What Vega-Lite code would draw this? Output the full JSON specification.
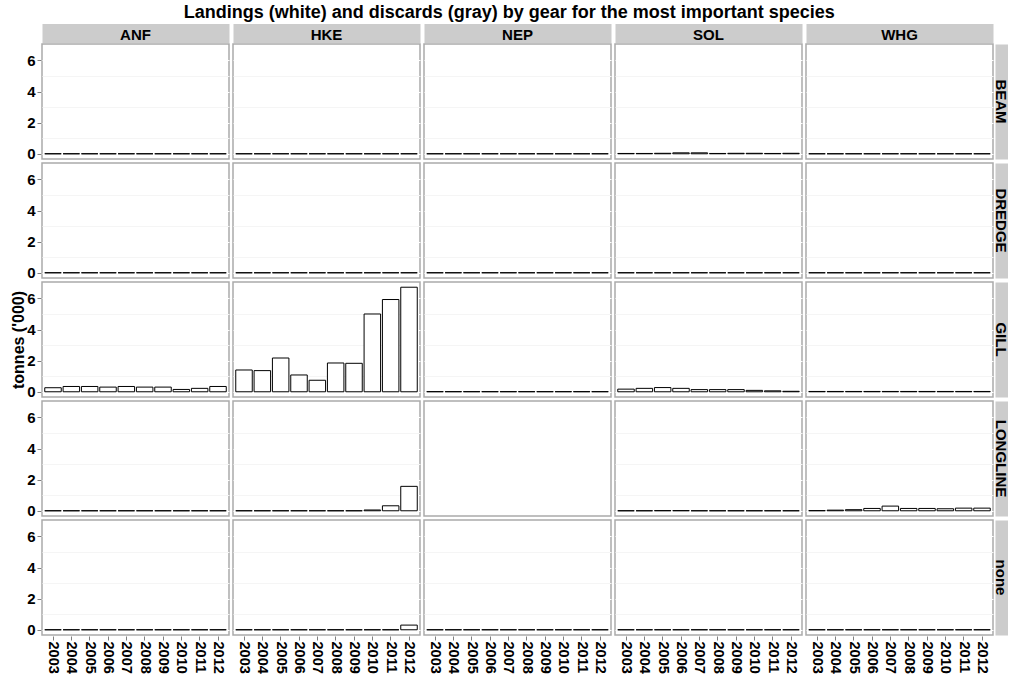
{
  "$schema": "https://vega.github.io/schema/vega-lite/v6.json",
  "padding": {"left": 10, "top": 4, "right": 0, "bottom": 0},
  "background": "white",
  "title": {"text": "Landings (white) and discards (gray) by gear for the most important species", "font": "Liberation Sans", "fontSize": 18, "fontWeight": "bold", "color": "black", "anchor": "middle", "offset": 6},
  "config": {
    "view": {"stroke": "#ababab", "strokeWidth": 1.5},
    "font": "Liberation Sans"
  },
  "data": {"values": [
    {"species":"ANF","gear":"BEAM","year":"2003","tonnes":0},{"species":"ANF","gear":"BEAM","year":"2004","tonnes":0},{"species":"ANF","gear":"BEAM","year":"2005","tonnes":0},{"species":"ANF","gear":"BEAM","year":"2006","tonnes":0},{"species":"ANF","gear":"BEAM","year":"2007","tonnes":0},{"species":"ANF","gear":"BEAM","year":"2008","tonnes":0},{"species":"ANF","gear":"BEAM","year":"2009","tonnes":0},{"species":"ANF","gear":"BEAM","year":"2010","tonnes":0},{"species":"ANF","gear":"BEAM","year":"2011","tonnes":0},{"species":"ANF","gear":"BEAM","year":"2012","tonnes":0},
    {"species":"HKE","gear":"BEAM","year":"2003","tonnes":0},{"species":"HKE","gear":"BEAM","year":"2004","tonnes":0},{"species":"HKE","gear":"BEAM","year":"2005","tonnes":0},{"species":"HKE","gear":"BEAM","year":"2006","tonnes":0},{"species":"HKE","gear":"BEAM","year":"2007","tonnes":0},{"species":"HKE","gear":"BEAM","year":"2008","tonnes":0},{"species":"HKE","gear":"BEAM","year":"2009","tonnes":0},{"species":"HKE","gear":"BEAM","year":"2010","tonnes":0},{"species":"HKE","gear":"BEAM","year":"2011","tonnes":0},{"species":"HKE","gear":"BEAM","year":"2012","tonnes":0},
    {"species":"NEP","gear":"BEAM","year":"2003","tonnes":0},{"species":"NEP","gear":"BEAM","year":"2004","tonnes":0},{"species":"NEP","gear":"BEAM","year":"2005","tonnes":0},{"species":"NEP","gear":"BEAM","year":"2006","tonnes":0},{"species":"NEP","gear":"BEAM","year":"2007","tonnes":0},{"species":"NEP","gear":"BEAM","year":"2008","tonnes":0},{"species":"NEP","gear":"BEAM","year":"2009","tonnes":0},{"species":"NEP","gear":"BEAM","year":"2010","tonnes":0},{"species":"NEP","gear":"BEAM","year":"2011","tonnes":0},{"species":"NEP","gear":"BEAM","year":"2012","tonnes":0},
    {"species":"SOL","gear":"BEAM","year":"2003","tonnes":0.02},{"species":"SOL","gear":"BEAM","year":"2004","tonnes":0.02},{"species":"SOL","gear":"BEAM","year":"2005","tonnes":0.03},{"species":"SOL","gear":"BEAM","year":"2006","tonnes":0.06},{"species":"SOL","gear":"BEAM","year":"2007","tonnes":0.06},{"species":"SOL","gear":"BEAM","year":"2008","tonnes":0.02},{"species":"SOL","gear":"BEAM","year":"2009","tonnes":0.03},{"species":"SOL","gear":"BEAM","year":"2010","tonnes":0.03},{"species":"SOL","gear":"BEAM","year":"2011","tonnes":0.02},{"species":"SOL","gear":"BEAM","year":"2012","tonnes":0.03},
    {"species":"WHG","gear":"BEAM","year":"2003","tonnes":0},{"species":"WHG","gear":"BEAM","year":"2004","tonnes":0},{"species":"WHG","gear":"BEAM","year":"2005","tonnes":0},{"species":"WHG","gear":"BEAM","year":"2006","tonnes":0},{"species":"WHG","gear":"BEAM","year":"2007","tonnes":0},{"species":"WHG","gear":"BEAM","year":"2008","tonnes":0},{"species":"WHG","gear":"BEAM","year":"2009","tonnes":0},{"species":"WHG","gear":"BEAM","year":"2010","tonnes":0},{"species":"WHG","gear":"BEAM","year":"2011","tonnes":0},{"species":"WHG","gear":"BEAM","year":"2012","tonnes":0},
    {"species":"ANF","gear":"DREDGE","year":"2003","tonnes":0},{"species":"ANF","gear":"DREDGE","year":"2004","tonnes":0},{"species":"ANF","gear":"DREDGE","year":"2005","tonnes":0},{"species":"ANF","gear":"DREDGE","year":"2006","tonnes":0},{"species":"ANF","gear":"DREDGE","year":"2007","tonnes":0},{"species":"ANF","gear":"DREDGE","year":"2008","tonnes":0},{"species":"ANF","gear":"DREDGE","year":"2009","tonnes":0},{"species":"ANF","gear":"DREDGE","year":"2010","tonnes":0},{"species":"ANF","gear":"DREDGE","year":"2011","tonnes":0},{"species":"ANF","gear":"DREDGE","year":"2012","tonnes":0},
    {"species":"HKE","gear":"DREDGE","year":"2003","tonnes":0},{"species":"HKE","gear":"DREDGE","year":"2004","tonnes":0},{"species":"HKE","gear":"DREDGE","year":"2005","tonnes":0},{"species":"HKE","gear":"DREDGE","year":"2006","tonnes":0},{"species":"HKE","gear":"DREDGE","year":"2007","tonnes":0},{"species":"HKE","gear":"DREDGE","year":"2008","tonnes":0},{"species":"HKE","gear":"DREDGE","year":"2009","tonnes":0},{"species":"HKE","gear":"DREDGE","year":"2010","tonnes":0},{"species":"HKE","gear":"DREDGE","year":"2011","tonnes":0},{"species":"HKE","gear":"DREDGE","year":"2012","tonnes":0},
    {"species":"NEP","gear":"DREDGE","year":"2003","tonnes":0},{"species":"NEP","gear":"DREDGE","year":"2004","tonnes":0},{"species":"NEP","gear":"DREDGE","year":"2005","tonnes":0},{"species":"NEP","gear":"DREDGE","year":"2006","tonnes":0},{"species":"NEP","gear":"DREDGE","year":"2007","tonnes":0},{"species":"NEP","gear":"DREDGE","year":"2008","tonnes":0},{"species":"NEP","gear":"DREDGE","year":"2009","tonnes":0},{"species":"NEP","gear":"DREDGE","year":"2010","tonnes":0},{"species":"NEP","gear":"DREDGE","year":"2011","tonnes":0},{"species":"NEP","gear":"DREDGE","year":"2012","tonnes":0},
    {"species":"SOL","gear":"DREDGE","year":"2003","tonnes":0},{"species":"SOL","gear":"DREDGE","year":"2004","tonnes":0},{"species":"SOL","gear":"DREDGE","year":"2005","tonnes":0},{"species":"SOL","gear":"DREDGE","year":"2006","tonnes":0},{"species":"SOL","gear":"DREDGE","year":"2007","tonnes":0},{"species":"SOL","gear":"DREDGE","year":"2008","tonnes":0},{"species":"SOL","gear":"DREDGE","year":"2009","tonnes":0},{"species":"SOL","gear":"DREDGE","year":"2010","tonnes":0},{"species":"SOL","gear":"DREDGE","year":"2011","tonnes":0},{"species":"SOL","gear":"DREDGE","year":"2012","tonnes":0},
    {"species":"WHG","gear":"DREDGE","year":"2003","tonnes":0},{"species":"WHG","gear":"DREDGE","year":"2004","tonnes":0},{"species":"WHG","gear":"DREDGE","year":"2005","tonnes":0},{"species":"WHG","gear":"DREDGE","year":"2006","tonnes":0},{"species":"WHG","gear":"DREDGE","year":"2007","tonnes":0},{"species":"WHG","gear":"DREDGE","year":"2008","tonnes":0},{"species":"WHG","gear":"DREDGE","year":"2009","tonnes":0},{"species":"WHG","gear":"DREDGE","year":"2010","tonnes":0},{"species":"WHG","gear":"DREDGE","year":"2011","tonnes":0},{"species":"WHG","gear":"DREDGE","year":"2012","tonnes":0},
    {"species":"ANF","gear":"GILL","year":"2003","tonnes":0.26},{"species":"ANF","gear":"GILL","year":"2004","tonnes":0.34},{"species":"ANF","gear":"GILL","year":"2005","tonnes":0.34},{"species":"ANF","gear":"GILL","year":"2006","tonnes":0.3},{"species":"ANF","gear":"GILL","year":"2007","tonnes":0.34},{"species":"ANF","gear":"GILL","year":"2008","tonnes":0.3},{"species":"ANF","gear":"GILL","year":"2009","tonnes":0.3},{"species":"ANF","gear":"GILL","year":"2010","tonnes":0.15},{"species":"ANF","gear":"GILL","year":"2011","tonnes":0.22},{"species":"ANF","gear":"GILL","year":"2012","tonnes":0.34},
    {"species":"HKE","gear":"GILL","year":"2003","tonnes":1.4},{"species":"HKE","gear":"GILL","year":"2004","tonnes":1.36},{"species":"HKE","gear":"GILL","year":"2005","tonnes":2.17},{"species":"HKE","gear":"GILL","year":"2006","tonnes":1.08},{"species":"HKE","gear":"GILL","year":"2007","tonnes":0.74},{"species":"HKE","gear":"GILL","year":"2008","tonnes":1.85},{"species":"HKE","gear":"GILL","year":"2009","tonnes":1.83},{"species":"HKE","gear":"GILL","year":"2010","tonnes":5.0},{"species":"HKE","gear":"GILL","year":"2011","tonnes":5.93},{"species":"HKE","gear":"GILL","year":"2012","tonnes":6.72},
    {"species":"NEP","gear":"GILL","year":"2003","tonnes":0.01},{"species":"NEP","gear":"GILL","year":"2004","tonnes":0.01},{"species":"NEP","gear":"GILL","year":"2005","tonnes":0.01},{"species":"NEP","gear":"GILL","year":"2006","tonnes":0.01},{"species":"NEP","gear":"GILL","year":"2007","tonnes":0.01},{"species":"NEP","gear":"GILL","year":"2008","tonnes":0.01},{"species":"NEP","gear":"GILL","year":"2009","tonnes":0.01},{"species":"NEP","gear":"GILL","year":"2010","tonnes":0.01},{"species":"NEP","gear":"GILL","year":"2011","tonnes":0.01},{"species":"NEP","gear":"GILL","year":"2012","tonnes":0.01},
    {"species":"SOL","gear":"GILL","year":"2003","tonnes":0.17},{"species":"SOL","gear":"GILL","year":"2004","tonnes":0.22},{"species":"SOL","gear":"GILL","year":"2005","tonnes":0.27},{"species":"SOL","gear":"GILL","year":"2006","tonnes":0.22},{"species":"SOL","gear":"GILL","year":"2007","tonnes":0.14},{"species":"SOL","gear":"GILL","year":"2008","tonnes":0.14},{"species":"SOL","gear":"GILL","year":"2009","tonnes":0.14},{"species":"SOL","gear":"GILL","year":"2010","tonnes":0.09},{"species":"SOL","gear":"GILL","year":"2011","tonnes":0.06},{"species":"SOL","gear":"GILL","year":"2012","tonnes":0.03},
    {"species":"WHG","gear":"GILL","year":"2003","tonnes":0.02},{"species":"WHG","gear":"GILL","year":"2004","tonnes":0.02},{"species":"WHG","gear":"GILL","year":"2005","tonnes":0.02},{"species":"WHG","gear":"GILL","year":"2006","tonnes":0.02},{"species":"WHG","gear":"GILL","year":"2007","tonnes":0.02},{"species":"WHG","gear":"GILL","year":"2008","tonnes":0.02},{"species":"WHG","gear":"GILL","year":"2009","tonnes":0.02},{"species":"WHG","gear":"GILL","year":"2010","tonnes":0.02},{"species":"WHG","gear":"GILL","year":"2011","tonnes":0.02},{"species":"WHG","gear":"GILL","year":"2012","tonnes":0.02},
    {"species":"ANF","gear":"LONGLINE","year":"2003","tonnes":0},{"species":"ANF","gear":"LONGLINE","year":"2004","tonnes":0},{"species":"ANF","gear":"LONGLINE","year":"2005","tonnes":0},{"species":"ANF","gear":"LONGLINE","year":"2006","tonnes":0},{"species":"ANF","gear":"LONGLINE","year":"2007","tonnes":0},{"species":"ANF","gear":"LONGLINE","year":"2008","tonnes":0},{"species":"ANF","gear":"LONGLINE","year":"2009","tonnes":0},{"species":"ANF","gear":"LONGLINE","year":"2010","tonnes":0},{"species":"ANF","gear":"LONGLINE","year":"2011","tonnes":0},{"species":"ANF","gear":"LONGLINE","year":"2012","tonnes":0},
    {"species":"HKE","gear":"LONGLINE","year":"2003","tonnes":0},{"species":"HKE","gear":"LONGLINE","year":"2004","tonnes":0},{"species":"HKE","gear":"LONGLINE","year":"2005","tonnes":0},{"species":"HKE","gear":"LONGLINE","year":"2006","tonnes":0},{"species":"HKE","gear":"LONGLINE","year":"2007","tonnes":0},{"species":"HKE","gear":"LONGLINE","year":"2008","tonnes":0},{"species":"HKE","gear":"LONGLINE","year":"2009","tonnes":0},{"species":"HKE","gear":"LONGLINE","year":"2010","tonnes":0.05},{"species":"HKE","gear":"LONGLINE","year":"2011","tonnes":0.32},{"species":"HKE","gear":"LONGLINE","year":"2012","tonnes":1.57},
    {"species":"SOL","gear":"LONGLINE","year":"2003","tonnes":0},{"species":"SOL","gear":"LONGLINE","year":"2004","tonnes":0},{"species":"SOL","gear":"LONGLINE","year":"2005","tonnes":0.01},{"species":"SOL","gear":"LONGLINE","year":"2006","tonnes":0.01},{"species":"SOL","gear":"LONGLINE","year":"2007","tonnes":0},{"species":"SOL","gear":"LONGLINE","year":"2008","tonnes":0},{"species":"SOL","gear":"LONGLINE","year":"2009","tonnes":0},{"species":"SOL","gear":"LONGLINE","year":"2010","tonnes":0},{"species":"SOL","gear":"LONGLINE","year":"2011","tonnes":0},{"species":"SOL","gear":"LONGLINE","year":"2012","tonnes":0},
    {"species":"WHG","gear":"LONGLINE","year":"2003","tonnes":0.01},{"species":"WHG","gear":"LONGLINE","year":"2004","tonnes":0.04},{"species":"WHG","gear":"LONGLINE","year":"2005","tonnes":0.07},{"species":"WHG","gear":"LONGLINE","year":"2006","tonnes":0.15},{"species":"WHG","gear":"LONGLINE","year":"2007","tonnes":0.3},{"species":"WHG","gear":"LONGLINE","year":"2008","tonnes":0.15},{"species":"WHG","gear":"LONGLINE","year":"2009","tonnes":0.15},{"species":"WHG","gear":"LONGLINE","year":"2010","tonnes":0.13},{"species":"WHG","gear":"LONGLINE","year":"2011","tonnes":0.17},{"species":"WHG","gear":"LONGLINE","year":"2012","tonnes":0.17},
    {"species":"ANF","gear":"none","year":"2003","tonnes":0},{"species":"ANF","gear":"none","year":"2004","tonnes":0},{"species":"ANF","gear":"none","year":"2005","tonnes":0},{"species":"ANF","gear":"none","year":"2006","tonnes":0},{"species":"ANF","gear":"none","year":"2007","tonnes":0},{"species":"ANF","gear":"none","year":"2008","tonnes":0},{"species":"ANF","gear":"none","year":"2009","tonnes":0},{"species":"ANF","gear":"none","year":"2010","tonnes":0},{"species":"ANF","gear":"none","year":"2011","tonnes":0},{"species":"ANF","gear":"none","year":"2012","tonnes":0},
    {"species":"HKE","gear":"none","year":"2003","tonnes":0},{"species":"HKE","gear":"none","year":"2004","tonnes":0},{"species":"HKE","gear":"none","year":"2005","tonnes":0},{"species":"HKE","gear":"none","year":"2006","tonnes":0},{"species":"HKE","gear":"none","year":"2007","tonnes":0},{"species":"HKE","gear":"none","year":"2008","tonnes":0},{"species":"HKE","gear":"none","year":"2009","tonnes":0},{"species":"HKE","gear":"none","year":"2010","tonnes":0},{"species":"HKE","gear":"none","year":"2011","tonnes":0},{"species":"HKE","gear":"none","year":"2012","tonnes":0.3},
    {"species":"NEP","gear":"none","year":"2003","tonnes":0},{"species":"NEP","gear":"none","year":"2004","tonnes":0},{"species":"NEP","gear":"none","year":"2005","tonnes":0},{"species":"NEP","gear":"none","year":"2006","tonnes":0},{"species":"NEP","gear":"none","year":"2007","tonnes":0},{"species":"NEP","gear":"none","year":"2008","tonnes":0},{"species":"NEP","gear":"none","year":"2009","tonnes":0},{"species":"NEP","gear":"none","year":"2010","tonnes":0},{"species":"NEP","gear":"none","year":"2011","tonnes":0},{"species":"NEP","gear":"none","year":"2012","tonnes":0},
    {"species":"SOL","gear":"none","year":"2003","tonnes":0},{"species":"SOL","gear":"none","year":"2004","tonnes":0},{"species":"SOL","gear":"none","year":"2005","tonnes":0},{"species":"SOL","gear":"none","year":"2006","tonnes":0},{"species":"SOL","gear":"none","year":"2007","tonnes":0},{"species":"SOL","gear":"none","year":"2008","tonnes":0},{"species":"SOL","gear":"none","year":"2009","tonnes":0},{"species":"SOL","gear":"none","year":"2010","tonnes":0},{"species":"SOL","gear":"none","year":"2011","tonnes":0},{"species":"SOL","gear":"none","year":"2012","tonnes":0},
    {"species":"WHG","gear":"none","year":"2003","tonnes":0},{"species":"WHG","gear":"none","year":"2004","tonnes":0},{"species":"WHG","gear":"none","year":"2005","tonnes":0},{"species":"WHG","gear":"none","year":"2006","tonnes":0},{"species":"WHG","gear":"none","year":"2007","tonnes":0},{"species":"WHG","gear":"none","year":"2008","tonnes":0},{"species":"WHG","gear":"none","year":"2009","tonnes":0},{"species":"WHG","gear":"none","year":"2010","tonnes":0},{"species":"WHG","gear":"none","year":"2011","tonnes":0},{"species":"WHG","gear":"none","year":"2012","tonnes":0}
  ]},
  "facet": {
    "column": {"field": "species", "type": "nominal",
      "header": {"title": null, "labelFont": "Liberation Sans", "labelFontSize": 15, "labelFontWeight": "bold", "labelColor": "black", "labelPadding": -10}},
    "row": {"field": "gear", "type": "nominal",
      "header": {"title": "tonnes ('000)", "titleOrient": "left", "titleAngle": -90, "titleFont": "Liberation Sans", "titleFontSize": 16, "titleFontWeight": "bold", "titleColor": "black", "titlePadding": -27,
        "labelOrient": "right", "labelAngle": 90, "labelAlign": "center", "labelFont": "Liberation Sans", "labelFontSize": 15, "labelFontWeight": "bold", "labelColor": "black", "labelPadding": -12}}
  },
  "spacing": {"row": 2, "column": 2},
  "spec": {
    "width": 187,
    "height": 115,
    "layer": [
      {
        "mark": {"type": "bar", "fill": "white", "stroke": "black", "strokeWidth": 1},
        "encoding": {
          "x": {"field": "year", "type": "ordinal",
            "scale": {"paddingInner": 0.1, "paddingOuter": 0.15},
            "axis": {"orient": "bottom", "title": null, "labelAngle": 90, "labelAlign": "left", "labelBaseline": "middle", "labelFont": "Liberation Sans", "labelFontSize": 14.5, "labelFontWeight": "bold", "labelColor": "black", "labelPadding": 1, "tickColor": "#7f7f7f", "tickSize": 4, "domain": false, "grid": false}},
          "y": {"field": "tonnes", "type": "quantitative",
            "scale": {"domain": [-0.336, 7.056], "nice": false, "zero": false},
            "axis": {"orient": "left", "title": null,
              "values": [0,1,2,3,4,5,6],
              "labelExpr": "datum.value % 2 == 0 ? datum.label : ''",
              "labelFont": "Liberation Sans", "labelFontSize": 15, "labelFontWeight": "bold", "labelColor": "black", "labelPadding": 2,
              "tickSize": 4,
              "tickColor": {"condition": {"test": "datum.value % 2 == 0", "value": "#7f7f7f"}, "value": "rgba(0,0,0,0)"},
              "grid": true,
              "gridColor": {"condition": {"test": "datum.value % 2 == 0", "value": "#ffffff"}, "value": "#f5f5f5"},
              "domain": false}},
          "y2": {"datum": 0}
        }
      },
      {
        "mark": {"type": "bar", "opacity": 0},
        "encoding": {
          "x": {"field": "year", "type": "ordinal",
            "axis": {"orient": "top", "title": null, "labels": false, "ticks": false, "grid": false, "domain": true, "domainColor": "#cccccc", "domainWidth": 19, "domainCap": "butt", "offset": 10}},
          "y": {"field": "tonnes", "type": "quantitative",
            "axis": {"orient": "right", "title": null, "labels": false, "ticks": false, "grid": false, "domain": true, "domainColor": "#cccccc", "domainWidth": 19, "domainCap": "butt", "offset": 10.5}},
          "y2": {"datum": 0}
        }
      }
    ],
    "resolve": {"axis": {"x": "independent", "y": "independent"}}
  }
}
